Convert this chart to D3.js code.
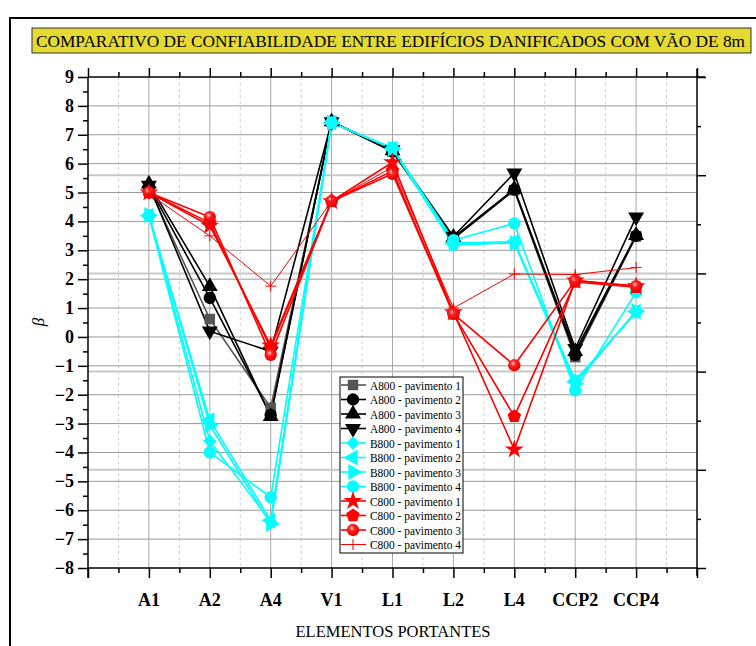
<!DOCTYPE html>
<html>
<head>
<meta charset="utf-8">
<script src="https://cdn.jsdelivr.net/npm/d3@7"></script>
<style>
  html, body { margin: 0; padding: 0; background: #fff; }
  svg { display: block; }
  text { font-family: "Liberation Serif", "Times New Roman", serif; }
</style>
</head>
<body>
<svg id="chart" width="756" height="646"></svg>
<script>
// Structural elements (categories on the x axis)
const categories = ["A1", "A2", "A4", "V1", "L1", "L2", "L4", "CCP2", "CCP4"];

// Reliability index β per element, per building/floor
const a800Pav1 = [5.20, 0.62, -2.45, 7.45, 6.42, 3.40, 5.08, -0.70, 3.48];
const a800Pav2 = [5.22, 1.35, -2.70, 7.45, 6.42, 3.40, 5.10, -0.62, 3.50];
const a800Pav3 = [5.30, 1.75, -2.75, 7.45, 6.45, 3.45, 5.12, -0.50, 3.52];
const a800Pav4 = [5.25, 0.20, -0.50, 7.45, 6.48, 3.48, 5.67, -0.40, 4.15];

const b800Pav1 = [4.20, -3.60, -6.40, 7.42, 6.52, 3.18, 3.28, -1.50, 0.85];
const b800Pav2 = [4.20, -2.88, -6.35, 7.42, 6.52, 3.25, 3.30, -1.55, 0.88];
const b800Pav3 = [4.22, -3.05, -6.48, 7.42, 6.52, 3.22, 3.25, -1.62, 0.90];
const b800Pav4 = [4.20, -4.00, -5.55, 7.42, 6.55, 3.35, 3.93, -1.85, 1.55];

const c800Pav1 = [5.00, 3.85, -0.30, 4.70, 6.05, 0.85, -3.90, 1.95, 1.75];
const c800Pav2 = [5.00, 3.95, -0.38, 4.70, 5.75, 0.80, -2.75, 1.90, 1.72];
const c800Pav3 = [5.00, 4.15, -0.62, 4.70, 5.65, 0.80, -0.98, 1.95, 1.76];
const c800Pav4 = [4.95, 3.50, 1.76, 4.70, 5.88, 1.00, 2.18, 2.16, 2.40];

const seriesNames = [
  "A800 - pavimento 1", "A800 - pavimento 2", "A800 - pavimento 3", "A800 - pavimento 4",
  "B800 - pavimento 1", "B800 - pavimento 2", "B800 - pavimento 3", "B800 - pavimento 4",
  "C800 - pavimento 1", "C800 - pavimento 2", "C800 - pavimento 3", "C800 - pavimento 4"
];
const seriesValues = [
  a800Pav1, a800Pav2, a800Pav3, a800Pav4,
  b800Pav1, b800Pav2, b800Pav3, b800Pav4,
  c800Pav1, c800Pav2, c800Pav3, c800Pav4
];

// Left axis tick values
const yTicks = d3.range(-8, 10);

const titleText = "COMPARATIVO DE CONFIABILIDADE ENTRE EDIFÍCIOS DANIFICADOS COM VÃO DE 8m";
const xTitle = "ELEMENTOS PORTANTES";
const yTitle = "β";

// ---- marker shapes and styles per series ----
const pentagon = {
  draw(ctx, size) {
    const r = Math.sqrt(size / 2.38);
    for (let i = 0; i < 5; i++) {
      const a = -Math.PI / 2 + i * 2 * Math.PI / 5;
      const px = r * Math.cos(a), py = r * Math.sin(a);
      if (i === 0) ctx.moveTo(px, py); else ctx.lineTo(px, py);
    }
    ctx.closePath();
  }
};
const plusThin = {
  draw(ctx, size) {
    const r = Math.sqrt(size) / 2;
    ctx.moveTo(0, -r); ctx.lineTo(0, r);
    ctx.moveTo(-r, 0); ctx.lineTo(r, 0);
  }
};
const styles = [
  { color: "#555555", line: "#555555", sym: d3.symbolSquare, size: 110, rot: 0 },
  { color: "#000000", line: "#000000", sym: d3.symbolCircle, size: 120, rot: 0 },
  { color: "#000000", line: "#000000", sym: d3.symbolTriangle, size: 110, rot: 0 },
  { color: "#000000", line: "#000000", sym: d3.symbolTriangle, size: 110, rot: 180 },
  { color: "#00ffff", line: "#00ffff", sym: d3.symbolSquare, size: 90, rot: 45 },
  { color: "#00ffff", line: "#00ffff", sym: d3.symbolTriangle, size: 110, rot: -90 },
  { color: "#00ffff", line: "#00ffff", sym: d3.symbolTriangle, size: 110, rot: 90 },
  { color: "#00ffff", line: "#00ffff", sym: d3.symbolCircle, size: 120, rot: 0 },
  { color: "#ff0000", line: "#ff0000", sym: d3.symbolStar, size: 110, rot: 0 },
  { color: "#ff0000", line: "#ff0000", sym: pentagon, size: 120, rot: 0 },
  { color: "url(#redBall)", line: "#ff0000", sym: d3.symbolCircle, size: 120, rot: 0 },
  { color: "#ff0000", line: "#ff0000", sym: plusThin, size: 120, rot: 0, thin: true }
];

const svg = d3.select("#chart");

const defs = svg.append("defs");
const grad = defs.append("radialGradient").attr("id", "redBall")
  .attr("cx", "40%").attr("cy", "35%").attr("r", "65%");
grad.append("stop").attr("offset", "0%").attr("stop-color", "#ffd0d0");
grad.append("stop").attr("offset", "35%").attr("stop-color", "#ff2020");
grad.append("stop").attr("offset", "100%").attr("stop-color", "#e00000");

// Outer frame
svg.append("rect").attr("x", 10).attr("y", 18).attr("width", 760).attr("height", 640)
  .attr("fill", "none").attr("stroke", "#000").attr("stroke-width", 2);

// Title box
svg.append("rect").attr("x", 32).attr("y", 28).attr("width", 719).attr("height", 25)
  .attr("fill", "#e4da32").attr("stroke", "#333").attr("stroke-width", 1);
svg.append("text").attr("x", 36).attr("y", 46.5)
  .attr("font-size", 16).attr("fill", "#000")
  .attr("textLength", 709).attr("lengthAdjust", "spacingAndGlyphs")
  .text(titleText);

// Plot area and scales
const pLeft = 88, pRight = 697, pTop = 77, pBottom = 568;
const x = d3.scaleLinear().domain([0, categories.length + 1]).range([pLeft, pRight]);
const y = d3.scaleLinear().domain([-8, 9]).range([pBottom, pTop]);
// Secondary (unlabelled) right-hand scale
const y2 = d3.scaleLinear().domain([0, 10]).range([pBottom, pTop]);

const grid = svg.append("g");
// vertical grid: solid at categories, dashed at midpoints
grid.selectAll("line.vmaj").data(d3.range(1, categories.length + 1)).join("line")
  .attr("x1", d => x(d)).attr("x2", d => x(d)).attr("y1", pTop).attr("y2", pBottom)
  .attr("stroke", "#a8a8a8").attr("stroke-width", 1);
grid.selectAll("line.vmin").data(d3.range(0.5, categories.length + 1, 1)).join("line")
  .attr("x1", d => x(d)).attr("x2", d => x(d)).attr("y1", pTop).attr("y2", pBottom)
  .attr("stroke", "#cfcfcf").attr("stroke-width", 1).attr("stroke-dasharray", "3,3");
// horizontal grid from secondary scale
grid.selectAll("line.h2").data(d3.range(2, 10, 2)).join("line")
  .attr("x1", pLeft).attr("x2", pRight).attr("y1", d => y2(d)).attr("y2", d => y2(d))
  .attr("stroke", "#c8c8c8").attr("stroke-width", 2);
// horizontal grid at integers
grid.selectAll("line.h").data(yTicks.filter(v => v > -8 && v < 9)).join("line")
  .attr("x1", pLeft).attr("x2", pRight).attr("y1", d => y(d)).attr("y2", d => y(d))
  .attr("stroke", "#9a9a9a").attr("stroke-width", 1);

// Series lines, then markers on top
const line = d3.line().x((d, i) => x(i + 1)).y(d => y(d));
const plot = svg.append("g");
seriesValues.forEach((vals, k) => {
  const st = styles[k];
  plot.append("path").datum(vals).attr("d", line)
    .attr("fill", "none").attr("stroke", st.line)
    .attr("stroke-width", st.thin ? 1 : 1.6).attr("stroke-linejoin", "round");
});
seriesValues.forEach((vals, k) => {
  const st = styles[k];
  const sym = d3.symbol().type(st.sym).size(st.size);
  plot.selectAll(null).data(vals).join("path")
    .attr("transform", (d, i) => `translate(${x(i + 1)},${y(d)}) rotate(${st.rot})`)
    .attr("d", sym)
    .attr("fill", st.thin ? "none" : st.color)
    .attr("stroke", st.thin ? st.line : "none")
    .attr("stroke-width", 1);
});

// Axes
const axG = svg.append("g");
// left
axG.append("g").attr("transform", `translate(${pLeft},0)`)
  .call(d3.axisLeft(y).tickValues(d3.range(-8, 9.5, 0.5)).tickSize(0).tickFormat(""))
  .call(g => g.select(".domain").attr("d", `M0,${pTop}V${pBottom + 10}`).attr("stroke", "#000").attr("stroke-width", 1.5))
  .call(g => g.selectAll(".tick line").attr("x2", d => Number.isInteger(d) ? -10 : -5).attr("stroke", "#000").attr("stroke-width", 1.5));
svg.append("g").selectAll("text").data(yTicks).join("text")
  .attr("x", 74).attr("y", d => y(d) + 6)
  .attr("text-anchor", "end").attr("font-size", 18).attr("font-weight", "bold")
  .text(d => d < 0 ? "\u2212" + Math.abs(d) : d);

// bottom
axG.append("g").attr("transform", `translate(0,${pBottom})`)
  .call(d3.axisBottom(x).tickValues(d3.range(0, categories.length + 1.5, 0.5)).tickSize(0).tickFormat(""))
  .call(g => g.select(".domain").attr("d", `M${pLeft},0H${pRight}`).attr("stroke", "#000").attr("stroke-width", 1.5))
  .call(g => g.selectAll(".tick line").attr("y2", d => Number.isInteger(d) ? 10 : 5).attr("stroke", "#000").attr("stroke-width", 1.5));
svg.append("g").selectAll("text").data(categories).join("text")
  .attr("x", (d, i) => x(i + 1)).attr("y", 606)
  .attr("text-anchor", "middle").attr("font-size", 18).attr("font-weight", "bold")
  .text(d => d);

// top
axG.append("g").attr("transform", `translate(0,${pTop})`)
  .call(d3.axisTop(x).tickValues(d3.range(0, categories.length + 1.5, 0.5)).tickSize(0).tickFormat(""))
  .call(g => g.select(".domain").attr("d", `M${pLeft},0H${pRight + 8}`).attr("stroke", "#000").attr("stroke-width", 1.5))
  .call(g => g.selectAll(".tick line").attr("y2", d => Number.isInteger(d) ? -9 : -5).attr("stroke", "#000").attr("stroke-width", 1.5));

// right (secondary)
axG.append("g").attr("transform", `translate(${pRight},0)`)
  .call(d3.axisRight(y2).tickValues(d3.range(0, 11, 1)).tickSize(0).tickFormat(""))
  .call(g => g.select(".domain").attr("d", `M0,${pTop - 8}V${pBottom + 8}`).attr("stroke", "#000").attr("stroke-width", 1.5))
  .call(g => g.selectAll(".tick line").attr("x2", d => d % 2 === 0 ? 9 : 4).attr("stroke", "#000").attr("stroke-width", 1.5));

// Axis titles
svg.append("text").attr("transform", "translate(44,322) rotate(-90)")
  .attr("text-anchor", "middle").attr("font-size", 17).attr("font-style", "italic")
  .text(yTitle);
svg.append("text").attr("x", 393).attr("y", 637)
  .attr("text-anchor", "middle").attr("font-size", 16.5)
  .text(xTitle);

// Legend
const lg = svg.append("g");
const lgX = 340, lgY = 377, lgRow = 14.5;
lg.append("rect").attr("x", lgX).attr("y", lgY).attr("width", 123).attr("height", 176)
  .attr("fill", "#fff").attr("stroke", "#000").attr("stroke-width", 1);
seriesNames.forEach((name, k) => {
  const st = styles[k];
  const cy = lgY + 8 + k * lgRow;
  lg.append("line").attr("x1", lgX + 1).attr("x2", lgX + 26).attr("y1", cy).attr("y2", cy)
    .attr("stroke", st.line).attr("stroke-width", st.thin ? 1 : 1.6);
  lg.append("path")
    .attr("transform", `translate(${lgX + 13},${cy}) rotate(${st.rot})`)
    .attr("d", d3.symbol().type(st.sym).size(st.size)())
    .attr("fill", st.thin ? "none" : st.color)
    .attr("stroke", st.thin ? st.line : "none");
  lg.append("text").attr("x", lgX + 30).attr("y", cy + 4.5)
    .attr("font-size", 12.5)
    .attr("textLength", 91).attr("lengthAdjust", "spacingAndGlyphs")
    .text(name);
});
</script>
</body>
</html>
